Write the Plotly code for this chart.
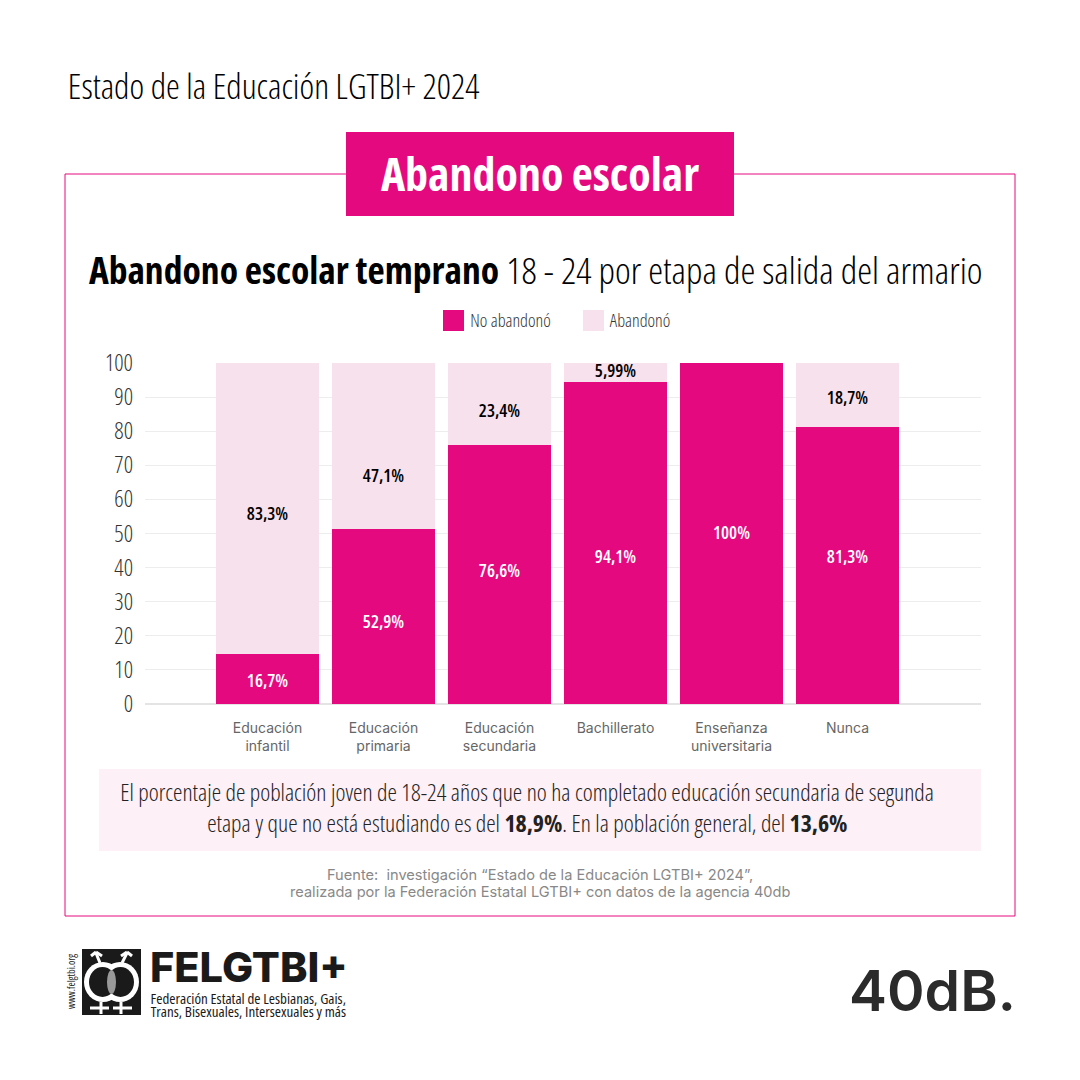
import plotly.graph_objects as go

categories = ["Educación<br>infantil", "Educación<br>primaria", "Educación<br>secundaria",
              "Bachillerato", "Enseñanza<br>universitaria", "Nunca"]
no_abandono = [14.6, 51.4, 76.0, 94.5, 100, 81.2]
abandono = [85.4, 48.6, 24.0, 5.5, 0, 18.8]
no_labels = ["16,7%", "52,9%", "76,6%", "94,1%", "100%", "81,3%"]
ab_labels = ["83,3%", "47,1%", "23,4%", "5,99%", "", "18,7%"]
no_label_at = [6.2, 23.6, 38.6, 42.7, 49.7, 42.7]
ab_label_at = [55.2, 66.4, 85.4, 97.2, 100, 89.2]
y_ticks = [0, 10, 20, 30, 40, 50, 60, 70, 80, 90, 100]

PINK = "#E4097F"
LIGHT = "#F7E1EC"
NARROW = "Open Sans"
WIDE = "Inter"
W = H = 1080
px = lambda x: x / W
py = lambda y: 1 - y / H

fig = go.Figure()
fig.add_bar(x=categories, y=no_abandono, name="No abandonó", marker_color=PINK, marker_line_width=0)
fig.add_bar(x=categories, y=abandono, name="Abandonó", marker_color=LIGHT, marker_line_width=0)
fig.add_scatter(x=categories, y=no_label_at, text=no_labels, mode="text", hoverinfo="skip", cliponaxis=False,
                textfont=dict(family=NARROW, size=18, color="white", weight=600), showlegend=False)
fig.add_scatter(x=categories, y=ab_label_at, text=ab_labels, mode="text", hoverinfo="skip", cliponaxis=False,
                textfont=dict(family=NARROW, size=18, color="black", weight=600), showlegend=False)


def rect(x0, y0, x1, y1, fill="rgba(0,0,0,0)", line=None, w=1, layer="above", kind="rect"):
    return dict(type=kind, xref="paper", yref="paper", x0=px(x0), x1=px(x1), y0=py(y0), y1=py(y1),
                fillcolor=fill, line=dict(color=line or "rgba(0,0,0,0)", width=w if line else 0), layer=layer)


def seg(x0, y0, x1, y1, w=3, color="white"):
    return dict(type="line", xref="paper", yref="paper", x0=px(x0), x1=px(x1), y0=py(y0), y1=py(y1),
                line=dict(color=color, width=w), layer="above")


def label(x, y, text, size, color="black", family=NARROW, weight=300, angle=0):
    return dict(xref="paper", yref="paper", x=px(x), y=py(y), text=text, showarrow=False, xanchor="center",
                yanchor="middle", align="center", textangle=angle,
                font=dict(family=family, size=size, color=color, weight=weight))


INK = "#1a1a1a"
shapes = [
    rect(65, 174, 1015, 916, line=PINK, w=1, layer="below"),
    rect(346, 132, 734, 216, fill=PINK, layer="below"),
    rect(99, 769, 981, 851, fill="#FDF0F6", layer="below"),
    rect(443, 310, 464, 331, fill=PINK),
    rect(583, 310, 604, 331, fill=LIGHT),
    # emblem
    rect(82, 949, 141, 1015, fill=INK),
    rect(84, 962, 122, 1002, fill="white", kind="circle"),
    rect(101, 962, 139, 1002, fill="white", kind="circle"),
    rect(89, 967, 116, 997, fill=INK, kind="circle"),
    rect(107, 967, 134, 997, fill=INK, kind="circle"),
    rect(107, 970, 116, 994, fill="#999999", kind="circle"),
    seg(100, 963, 96, 953), seg(122, 963, 127, 953),
    seg(91, 956, 96, 952), seg(96, 952, 102, 956),
    seg(121, 956, 127, 952), seg(127, 952, 132, 956),
    seg(101, 1002, 101, 1014), seg(121, 1002, 121, 1014),
    seg(90, 1008, 109, 1008), seg(113, 1008, 132, 1008),
]

annotations = [
    label(273, 86, "Estado de la Educación LGTBI+ 2024", 35),
    label(540, 173, "Abandono escolar", 46, color="white", weight=700),
    label(535, 269, "<b>Abandono escolar temprano</b> 18 - 24 por etapa de salida del armario", 37.6),
    label(510, 320, "No abandonó", 18, color="#333333"),
    label(640, 320, "Abandonó", 18, color="#333333"),
    label(527, 792, "El porcentaje de población joven de 18-24 años que no ha completado educación secundaria de segunda", 23.8, color="#222222", weight=300),
    label(527, 823, "etapa y que no está estudiando es del <b>18,9%</b>. En la población general, del <b>13,6%</b>", 23.8, color="#222222", weight=300),
    label(540, 875, "Fuente:  investigación “Estado de la Educación LGTBI+ 2024”,", 14.6, color="#888888", family=WIDE, weight=400),
    label(540, 892, "realizada por la Federación Estatal LGTBI+ con datos de la agencia 40db", 14.6, color="#888888", family=WIDE, weight=400),
    label(71, 981, "www.felgtbi.org", 10, color="#222222", angle=-90, weight=400),
    label(249, 967, "FELGTBI+", 41.5, color=INK, family=WIDE, weight=800),
    label(248, 998, "Federación Estatal de Lesbianas, Gais,", 15, color=INK, weight=400),
    label(248, 1011, "Trans, Bisexuales, Intersexuales y más", 15, color=INK, weight=400),
    label(932.5, 990, "40dB.", 57, color="#2b2b2b", family=WIDE, weight=600),
]

fig.update_layout(
    width=W, height=H, margin=dict(l=0, r=0, t=0, b=0), paper_bgcolor="white", plot_bgcolor="white",
    barmode="stack", bargap=0.112, showlegend=False, shapes=shapes, annotations=annotations,
    xaxis=dict(domain=[px(145), px(981)], range=[-1.056, 5 + 1.151], type="category", automargin=False,
               categoryorder="array", categoryarray=categories, showgrid=False, zeroline=False, showline=False,
               tickfont=dict(family=WIDE, size=14, color="#666666"), ticks="", ticklabelstandoff=14),
    yaxis=dict(domain=[py(704), py(363)], range=[0, 100], tickvals=y_ticks, gridcolor="#EDEDED", gridwidth=1,
               automargin=False, zeroline=True, zerolinecolor="#E4E4E4", showline=False, ticks="", ticklabelstandoff=11,
               tickfont=dict(family=NARROW, size=23, color="#333333", weight=300)),
)
post = """
document.body.style.margin='0';
var s=document.createElement('style');
s.textContent='svg text[style*="Open Sans"]{font-stretch:62.5% !important;}';
document.head.appendChild(s);
"""
fig.write_html("out.html", config=dict(displayModeBar=False), post_script=post)
